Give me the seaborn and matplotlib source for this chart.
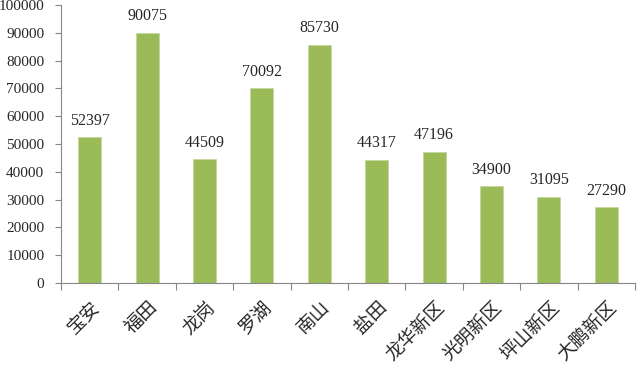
import numpy as np
import pandas as pd
import seaborn as sns
import matplotlib.pyplot as plt
from matplotlib.ticker import FixedLocator

districts = ['宝安', '福田', '龙岗', '罗湖', '南山', '盐田', '龙华新区', '光明新区', '坪山新区', '大鹏新区']
values = [52397, 90075, 44509, 70092, 85730, 44317, 47196, 34900, 31095, 27290]

df = pd.DataFrame({'district': districts, 'value': values})

sns.set_style('white')
plt.rcParams['font.family'] = ['Liberation Serif', 'Noto Sans CJK SC', 'DejaVu Sans']

fig = plt.figure(figsize=(6.4, 3.74), dpi=100)
ax = fig.add_axes([61 / 640, 1 - 283 / 374, 574 / 640, 278 / 374])

sns.barplot(data=df, x='district', y='value', color='#9BBB59', width=0.4,
            saturation=1, edgecolor='#C5D89E', linewidth=0.6, ax=ax)

for i, v in enumerate(values):
    ax.text(i, v + 3000, str(v), ha='center', va='bottom', fontsize=11.5,
            family='Liberation Serif')

ax.set_xlim(-0.5, len(districts) - 0.5)
ax.set_ylim(0, 100000)
ax.set_yticks(np.arange(0, 100001, 10000))
ax.set_xlabel('')
ax.set_ylabel('')

ax.set_xticks(range(len(districts)))
ax.set_xticklabels(districts, rotation=45, ha='right', rotation_mode='anchor',
                   fontsize=13.5, family=['Noto Sans CJK SC', 'DejaVu Sans'])
ax.xaxis.set_minor_locator(FixedLocator(np.arange(-0.5, len(districts), 1)))
ax.tick_params(axis='x', which='major', length=0, pad=10)
ax.tick_params(axis='x', which='minor', length=5, color='#868686', width=0.8, direction='out', bottom=True)
ax.tick_params(axis='y', length=4, color='#868686', width=0.8, direction='out', left=True, labelsize=11, pad=8)

for s in ['top', 'right']:
    ax.spines[s].set_visible(False)
for s in ['left', 'bottom']:
    ax.spines[s].set_color('#868686')
    ax.spines[s].set_linewidth(0.8)

fig.savefig('out.png', dpi=100)
